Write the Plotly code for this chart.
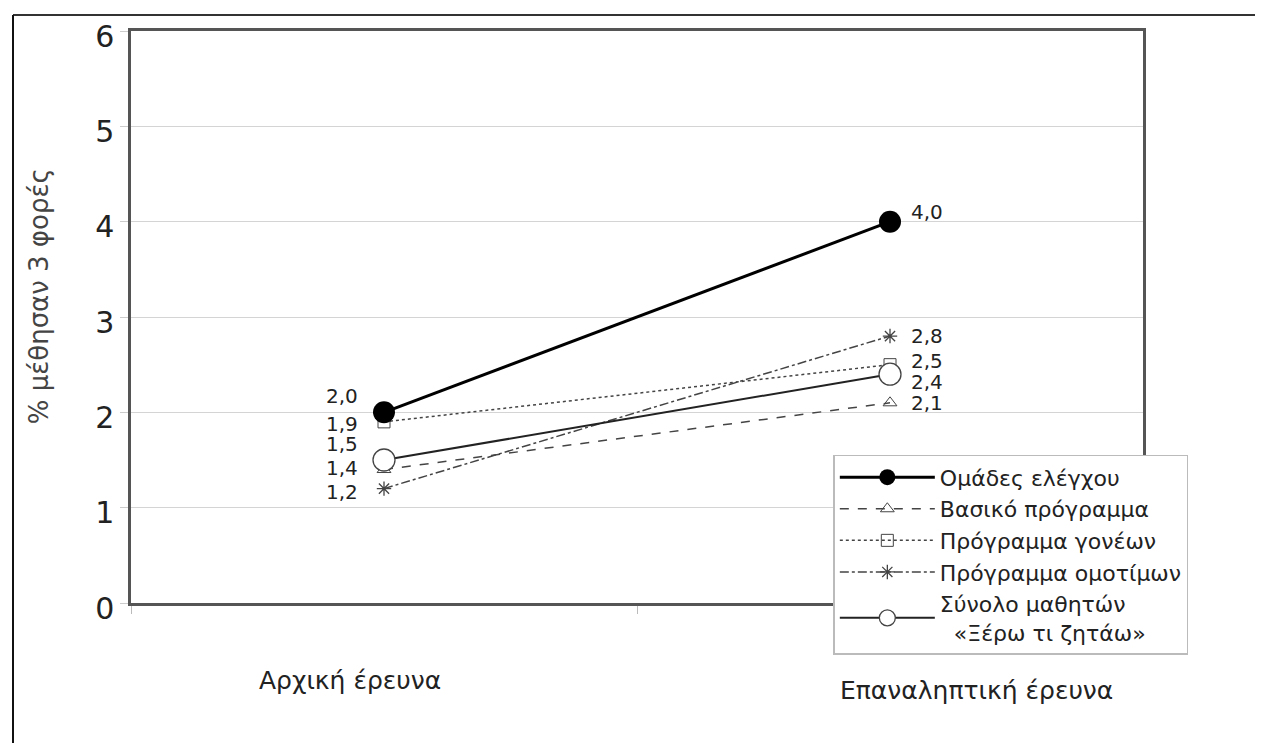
import plotly.graph_objects as go

categories = ["Αρχική έρευνα", "Επαναληπτική έρευνα"]
series_names = [
    "Ομάδες ελέγχου",
    "Βασικό πρόγραμμα",
    "Πρόγραμμα γονέων",
    "Πρόγραμμα ομοτίμων",
    "Σύνολο μαθητών<br>  «Ξέρω τι ζητάω»",
]
control = [2.0, 4.0]
basic = [1.4, 2.1]
parents = [1.9, 2.5]
peers = [1.2, 2.8]
total = [1.5, 2.4]
y_ticks = [0, 1, 2, 3, 4, 5, 6]

FONT = "DejaVu Sans"
fig = go.Figure()

styles = [
    dict(line=dict(color="black", width=3, dash="solid"),
         marker=dict(symbol="circle", size=22, color="black")),
    dict(line=dict(color="#444", width=1.5, dash="dash"),
         marker=dict(symbol="triangle-up-open", size=12, color="#444")),
    dict(line=dict(color="#444", width=1.5, dash="dot"),
         marker=dict(symbol="square-open", size=12, color="#444")),
    dict(line=dict(color="#444", width=1.5, dash="dashdot"),
         marker=dict(symbol="asterisk-open", size=12, color="#444", line=dict(width=1.3, color="#444"))),
    dict(line=dict(color="#222", width=2, dash="solid"),
         marker=dict(symbol="circle", size=22, color="white", line=dict(color="#444", width=1.3))),
]
data = [control, basic, parents, peers, total]
order = [1, 2, 3, 4, 0]
for i in order:
    fig.add_trace(go.Scatter(x=categories, y=data[i], name=series_names[i],
                             mode="lines+markers", legendrank=i + 1, **styles[i]))

# data labels (offsets in pixels only to keep them apart)
left_shift = [16, 2, -2, -3, 16]
right_shift = [10, 0, 4, 0, -8]
for i, vals in enumerate(data):
    fig.add_annotation(x=categories[0], y=vals[0], text=f"{vals[0]:.1f}".replace(".", ","),
                       showarrow=False, xanchor="right", xshift=-24, yshift=left_shift[i],
                       font=dict(family=FONT, size=20, color="#222"))
    fig.add_annotation(x=categories[1], y=vals[1], text=f"{vals[1]:.1f}".replace(".", ","),
                       showarrow=False, xanchor="left", xshift=19, yshift=right_shift[i],
                       font=dict(family=FONT, size=20, color="#222"))

# category labels
fig.add_annotation(x=categories[0], y=-0.135, xref="x", yref="paper", text=categories[0],
                   xshift=-34, yshift=-17,
                   showarrow=False, font=dict(family=FONT, size=25, color="#222"))
fig.add_annotation(x=categories[1], y=-0.152, xref="x", yref="paper", text=categories[1],
                   xshift=86, yshift=-17,
                   showarrow=False, font=dict(family=FONT, size=25, color="#222"))

# y axis title
fig.add_annotation(x=-0.091, y=0.536, xref="paper", yref="paper", text="% μέθησαν 3 φορές",
                   xanchor="center", yanchor="middle",
                   textangle=-90, showarrow=False, font=dict(family=FONT, size=26, color="#444"))

# outer frame (top and left edges)
fig.add_shape(type="line", xref="paper", yref="paper", x0=-0.1166, x1=1.2, y0=1.028, y1=1.028,
              line=dict(color="#333", width=2))
fig.add_shape(type="line", xref="paper", yref="paper", x0=-0.1166, x1=-0.1166, y0=1.028, y1=-0.3,
              line=dict(color="#111", width=2))

fig.update_xaxes(type="category", range=[-0.5, 1.5], showticklabels=False,
                 showline=True, mirror=True, linecolor="#555", linewidth=2.5,
                 tickson="boundaries", ticks="outside", ticklen=8, tickcolor="#bbb",
                 showgrid=False, zeroline=False, automargin=False)
fig.update_yaxes(range=[0, 6], tickvals=y_ticks, showline=True, mirror=True,
                 linecolor="#555", linewidth=2.5, showgrid=True, gridcolor="#d4d4d4", gridwidth=1,
                 ticks="outside", ticklen=8, tickcolor="#ccc", zeroline=False, automargin=False,
                 ticklabelshift=5,
                 tickfont=dict(family=FONT, size=30, color="#222"))

fig.update_layout(
    width=1255, height=735,
    margin=dict(l=123, r=120, t=23, b=140),
    paper_bgcolor="white", plot_bgcolor="white",
    font=dict(family=FONT, color="#222"),
    legend=dict(x=0.694, y=0.259, xanchor="left", yanchor="top",
                bgcolor="white", bordercolor="#bbb", borderwidth=1.5,
                font=dict(family=FONT, size=22, color="#222"),
                itemwidth=95, tracegroupgap=0),
)
fig.write_html("out.html")
